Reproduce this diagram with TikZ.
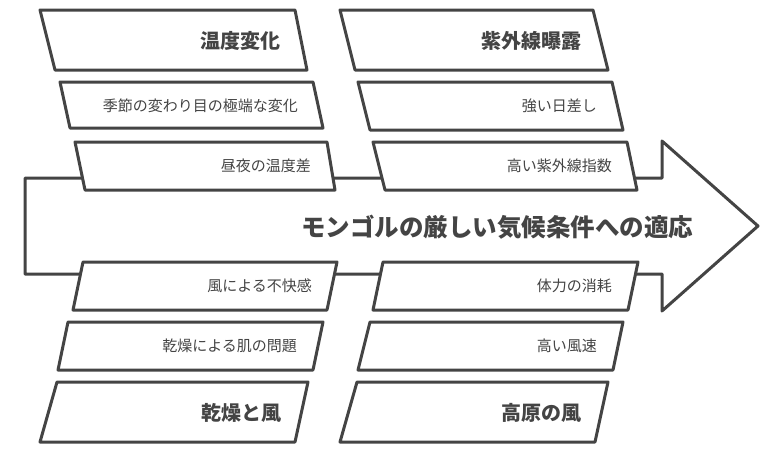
\documentclass[tikz,border=0pt]{standalone}
\usepackage{fontspec}
\setmainfont{Noto Sans CJK JP}
\begin{document}
\begin{tikzpicture}[x=1pt,y=-1pt,line join=round,
  sh/.style={draw=ink,line width=3pt,fill=white},
  hd/.style={anchor=east,font=\fontsize{20}{20}\selectfont\bfseries,text=ink,inner sep=0},
  it/.style={anchor=east,font=\fontsize{15}{15}\selectfont,text=ink,inner sep=0}]
\definecolor{ink}{HTML}{444444}
\useasboundingbox (0,0) rectangle (784,453);
\draw[sh] (25,178) -- (662,178) -- (662,141) -- (758,226) -- (662,311) -- (662,274) -- (25,274) -- cycle;
\node[font=\fontsize{24.5}{25}\selectfont\bfseries,text=ink,inner sep=0] (title) at (497,227) {モンゴルの厳しい気候条件への適応};
% left top
\draw[sh] (40,10) -- (295,10) -- (307,70) -- (55,70) -- cycle;
\node[hd] (a0) at (281,41) {温度変化};
\draw[sh] (60,82) -- (313,82) -- (323,128) -- (70,128) -- cycle;
\node[it] (a1) at (298,106) {季節の変わり目の極端な変化};
\draw[sh] (75,142) -- (327,142) -- (335,190) -- (85,190) -- cycle;
\node[it] (a2) at (311,166) {昼夜の温度差};
% right top
\draw[sh] (340,10) -- (593,10) -- (608,70) -- (355,70) -- cycle;
\node[hd] (b0) at (582,41) {紫外線曝露};
\draw[sh] (358,82) -- (612,82) -- (623,130) -- (370,130) -- cycle;
\node[it] (b1) at (597,106) {強い日差し};
\draw[sh] (373,142) -- (627,142) -- (637,190) -- (385,190) -- cycle;
\node[it] (b2) at (612,166) {高い紫外線指数};
% left bottom
\draw[sh] (83,262) -- (337,262) -- (327,310) -- (73,310) -- cycle;
\node[it] (c2) at (312,286) {風による不快感};
\draw[sh] (68,322) -- (323,322) -- (313,370) -- (58,370) -- cycle;
\node[it] (c1) at (297,346) {乾燥による肌の問題};
\draw[sh] (57,382) -- (308,382) -- (295,442) -- (40,442) -- cycle;
\node[hd] (c0) at (282,413) {乾燥と風};
% right bottom
\draw[sh] (383,262) -- (638,262) -- (628,310) -- (373,310) -- cycle;
\node[it] (d2) at (612,286) {体力の消耗};
\draw[sh] (370,322) -- (623,322) -- (613,370) -- (358,370) -- cycle;
\node[it] (d1) at (597,346) {高い風速};
\draw[sh] (357,382) -- (608,382) -- (595,442) -- (340,442) -- cycle;
\node[hd] (d0) at (582,413) {高原の風};
\end{tikzpicture}
\end{document}
